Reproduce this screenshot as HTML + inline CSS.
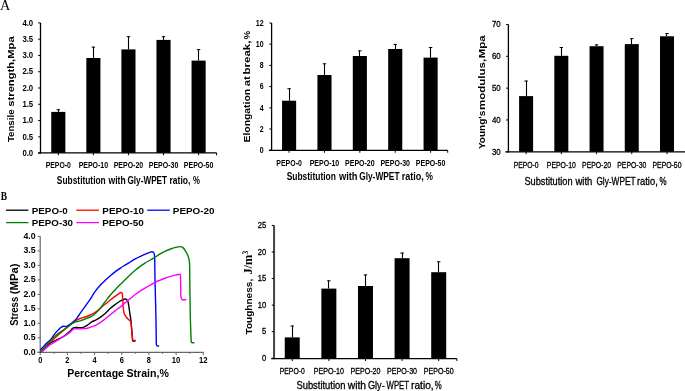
<!DOCTYPE html>
<html><head><meta charset="utf-8"><style>
html,body{margin:0;padding:0;background:#fff;width:685px;height:391px;overflow:hidden;}

</style></head><body>
<svg width="685" height="391" viewBox="0 0 685 391" style="position:absolute;left:0;top:0;filter:blur(0.3px)">
<rect width="685" height="391" fill="#fff"/>
<text x="0.10" y="9.90" font-family='"Liberation Serif", serif' font-size="14.0" font-weight="normal" fill="#000" textLength="10.30" lengthAdjust="spacingAndGlyphs" >A</text>
<rect x="51.25" y="111.90" width="14.10" height="41.00" fill="#000"/>
<line x1="58.50" y1="109.40" x2="58.50" y2="111.90" stroke="#000" stroke-width="1.1"/>
<line x1="56.60" y1="109.70" x2="60.00" y2="109.70" stroke="#000" stroke-width="1.0"/>
<rect x="86.33" y="58.00" width="14.09" height="94.90" fill="#000"/>
<line x1="93.50" y1="46.80" x2="93.50" y2="58.00" stroke="#000" stroke-width="1.1"/>
<line x1="91.67" y1="47.10" x2="95.08" y2="47.10" stroke="#000" stroke-width="1.0"/>
<rect x="121.40" y="49.40" width="14.10" height="103.50" fill="#000"/>
<line x1="128.50" y1="36.40" x2="128.50" y2="49.40" stroke="#000" stroke-width="1.1"/>
<line x1="126.75" y1="36.70" x2="130.15" y2="36.70" stroke="#000" stroke-width="1.0"/>
<rect x="156.47" y="39.90" width="14.11" height="113.00" fill="#000"/>
<line x1="163.50" y1="36.40" x2="163.50" y2="39.90" stroke="#000" stroke-width="1.1"/>
<line x1="161.83" y1="36.70" x2="165.22" y2="36.70" stroke="#000" stroke-width="1.0"/>
<rect x="191.55" y="60.60" width="14.10" height="92.30" fill="#000"/>
<line x1="198.50" y1="49.30" x2="198.50" y2="60.60" stroke="#000" stroke-width="1.1"/>
<line x1="196.90" y1="49.60" x2="200.30" y2="49.60" stroke="#000" stroke-width="1.0"/>
<line x1="40.50" y1="22.90" x2="40.50" y2="153.55" stroke="#000" stroke-width="1.3"/>
<line x1="38.00" y1="152.90" x2="216.60" y2="152.90" stroke="#000" stroke-width="1.3"/>
<line x1="38.20" y1="153.10" x2="40.50" y2="153.10" stroke="#000" stroke-width="1.0"/>
<line x1="38.20" y1="136.82" x2="40.50" y2="136.82" stroke="#000" stroke-width="1.0"/>
<line x1="38.20" y1="120.55" x2="40.50" y2="120.55" stroke="#000" stroke-width="1.0"/>
<line x1="38.20" y1="104.28" x2="40.50" y2="104.28" stroke="#000" stroke-width="1.0"/>
<line x1="38.20" y1="88.00" x2="40.50" y2="88.00" stroke="#000" stroke-width="1.0"/>
<line x1="38.20" y1="71.72" x2="40.50" y2="71.72" stroke="#000" stroke-width="1.0"/>
<line x1="38.20" y1="55.45" x2="40.50" y2="55.45" stroke="#000" stroke-width="1.0"/>
<line x1="38.20" y1="39.18" x2="40.50" y2="39.18" stroke="#000" stroke-width="1.0"/>
<line x1="38.20" y1="22.90" x2="40.50" y2="22.90" stroke="#000" stroke-width="1.0"/>
<line x1="58.30" y1="152.90" x2="58.30" y2="155.30" stroke="#000" stroke-width="1.0"/>
<line x1="93.38" y1="152.90" x2="93.38" y2="155.30" stroke="#000" stroke-width="1.0"/>
<line x1="128.45" y1="152.90" x2="128.45" y2="155.30" stroke="#000" stroke-width="1.0"/>
<line x1="163.53" y1="152.90" x2="163.53" y2="155.30" stroke="#000" stroke-width="1.0"/>
<line x1="198.60" y1="152.90" x2="198.60" y2="155.30" stroke="#000" stroke-width="1.0"/>
<line x1="216.60" y1="152.90" x2="216.60" y2="155.30" stroke="#000" stroke-width="1.0"/>
<text x="22.40" y="155.80" font-family='"Liberation Sans", sans-serif' font-size="8.6" font-weight="bold" fill="#000" textLength="10.80" lengthAdjust="spacingAndGlyphs" >0.0</text>
<text x="22.40" y="139.52" font-family='"Liberation Sans", sans-serif' font-size="8.6" font-weight="bold" fill="#000" textLength="10.80" lengthAdjust="spacingAndGlyphs" >0.5</text>
<text x="22.40" y="123.25" font-family='"Liberation Sans", sans-serif' font-size="8.6" font-weight="bold" fill="#000" textLength="10.80" lengthAdjust="spacingAndGlyphs" >1.0</text>
<text x="22.40" y="106.98" font-family='"Liberation Sans", sans-serif' font-size="8.6" font-weight="bold" fill="#000" textLength="10.80" lengthAdjust="spacingAndGlyphs" >1.5</text>
<text x="22.40" y="90.70" font-family='"Liberation Sans", sans-serif' font-size="8.6" font-weight="bold" fill="#000" textLength="10.80" lengthAdjust="spacingAndGlyphs" >2.0</text>
<text x="22.40" y="74.42" font-family='"Liberation Sans", sans-serif' font-size="8.6" font-weight="bold" fill="#000" textLength="10.80" lengthAdjust="spacingAndGlyphs" >2.5</text>
<text x="22.40" y="58.15" font-family='"Liberation Sans", sans-serif' font-size="8.6" font-weight="bold" fill="#000" textLength="10.80" lengthAdjust="spacingAndGlyphs" >3.0</text>
<text x="22.40" y="41.88" font-family='"Liberation Sans", sans-serif' font-size="8.6" font-weight="bold" fill="#000" textLength="10.80" lengthAdjust="spacingAndGlyphs" >3.5</text>
<text x="22.40" y="25.60" font-family='"Liberation Sans", sans-serif' font-size="8.6" font-weight="bold" fill="#000" textLength="10.80" lengthAdjust="spacingAndGlyphs" >4.0</text>
<text x="45.70" y="167.80" font-family='"Liberation Sans", sans-serif' font-size="8.8" font-weight="bold" fill="#000" textLength="25.20" lengthAdjust="spacingAndGlyphs" >PEPO-0</text>
<text x="78.63" y="167.80" font-family='"Liberation Sans", sans-serif' font-size="8.8" font-weight="bold" fill="#000" textLength="29.50" lengthAdjust="spacingAndGlyphs" >PEPO-10</text>
<text x="113.70" y="167.80" font-family='"Liberation Sans", sans-serif' font-size="8.8" font-weight="bold" fill="#000" textLength="29.50" lengthAdjust="spacingAndGlyphs" >PEPO-20</text>
<text x="148.78" y="167.80" font-family='"Liberation Sans", sans-serif' font-size="8.8" font-weight="bold" fill="#000" textLength="29.50" lengthAdjust="spacingAndGlyphs" >PEPO-30</text>
<text x="183.85" y="167.80" font-family='"Liberation Sans", sans-serif' font-size="8.8" font-weight="bold" fill="#000" textLength="29.50" lengthAdjust="spacingAndGlyphs" >PEPO-50</text>
<text transform="translate(14.30,142.11) rotate(-90)" x="0" y="0" font-family='"Liberation Sans", sans-serif' font-size="9.2" font-weight="bold" fill="#000" textLength="32.63" lengthAdjust="spacingAndGlyphs">Tensile</text>
<text transform="translate(14.30,106.69) rotate(-90)" x="0" y="0" font-family='"Liberation Sans", sans-serif' font-size="9.2" font-weight="bold" fill="#000" textLength="70.32" lengthAdjust="spacingAndGlyphs">strength,Mpa</text>
<text x="56.86" y="183.70" font-family='"Liberation Sans", sans-serif' font-size="10.4" font-weight="bold" fill="#000" textLength="48.86" lengthAdjust="spacingAndGlyphs">Substitution</text>
<text x="108.53" y="183.70" font-family='"Liberation Sans", sans-serif' font-size="10.4" font-weight="bold" fill="#000" textLength="17.11" lengthAdjust="spacingAndGlyphs">with</text>
<text x="127.46" y="183.70" font-family='"Liberation Sans", sans-serif' font-size="10.4" font-weight="bold" fill="#000" textLength="39.62" lengthAdjust="spacingAndGlyphs">Gly-WPET</text>
<text x="169.44" y="183.70" font-family='"Liberation Sans", sans-serif' font-size="10.4" font-weight="bold" fill="#000" textLength="20.94" lengthAdjust="spacingAndGlyphs">ratio,</text>
<text x="193.11" y="183.70" font-family='"Liberation Sans", sans-serif' font-size="10.4" font-weight="bold" fill="#000" textLength="6.90" lengthAdjust="spacingAndGlyphs">%</text>
<rect x="282.05" y="100.70" width="14.10" height="49.65" fill="#000"/>
<line x1="289.50" y1="88.40" x2="289.50" y2="100.70" stroke="#000" stroke-width="1.1"/>
<line x1="287.40" y1="88.70" x2="290.80" y2="88.70" stroke="#000" stroke-width="1.0"/>
<rect x="317.43" y="75.00" width="14.10" height="75.35" fill="#000"/>
<line x1="324.50" y1="63.50" x2="324.50" y2="75.00" stroke="#000" stroke-width="1.1"/>
<line x1="322.78" y1="63.80" x2="326.18" y2="63.80" stroke="#000" stroke-width="1.0"/>
<rect x="352.80" y="56.00" width="14.10" height="94.35" fill="#000"/>
<line x1="359.50" y1="50.60" x2="359.50" y2="56.00" stroke="#000" stroke-width="1.1"/>
<line x1="358.15" y1="50.90" x2="361.55" y2="50.90" stroke="#000" stroke-width="1.0"/>
<rect x="388.18" y="49.00" width="14.10" height="101.35" fill="#000"/>
<line x1="395.50" y1="44.10" x2="395.50" y2="49.00" stroke="#000" stroke-width="1.1"/>
<line x1="393.53" y1="44.40" x2="396.93" y2="44.40" stroke="#000" stroke-width="1.0"/>
<rect x="423.55" y="57.60" width="14.10" height="92.75" fill="#000"/>
<line x1="430.50" y1="47.20" x2="430.50" y2="57.60" stroke="#000" stroke-width="1.1"/>
<line x1="428.90" y1="47.50" x2="432.30" y2="47.50" stroke="#000" stroke-width="1.0"/>
<line x1="271.60" y1="23.00" x2="271.60" y2="151.00" stroke="#000" stroke-width="1.3"/>
<line x1="268.90" y1="150.35" x2="447.70" y2="150.35" stroke="#000" stroke-width="1.3"/>
<line x1="269.30" y1="150.20" x2="271.60" y2="150.20" stroke="#000" stroke-width="1.0"/>
<line x1="269.30" y1="129.00" x2="271.60" y2="129.00" stroke="#000" stroke-width="1.0"/>
<line x1="269.30" y1="107.80" x2="271.60" y2="107.80" stroke="#000" stroke-width="1.0"/>
<line x1="269.30" y1="86.60" x2="271.60" y2="86.60" stroke="#000" stroke-width="1.0"/>
<line x1="269.30" y1="65.40" x2="271.60" y2="65.40" stroke="#000" stroke-width="1.0"/>
<line x1="269.30" y1="44.20" x2="271.60" y2="44.20" stroke="#000" stroke-width="1.0"/>
<line x1="269.30" y1="23.00" x2="271.60" y2="23.00" stroke="#000" stroke-width="1.0"/>
<line x1="289.10" y1="150.35" x2="289.10" y2="152.75" stroke="#000" stroke-width="1.0"/>
<line x1="324.48" y1="150.35" x2="324.48" y2="152.75" stroke="#000" stroke-width="1.0"/>
<line x1="359.85" y1="150.35" x2="359.85" y2="152.75" stroke="#000" stroke-width="1.0"/>
<line x1="395.23" y1="150.35" x2="395.23" y2="152.75" stroke="#000" stroke-width="1.0"/>
<line x1="430.60" y1="150.35" x2="430.60" y2="152.75" stroke="#000" stroke-width="1.0"/>
<line x1="447.70" y1="150.35" x2="447.70" y2="152.75" stroke="#000" stroke-width="1.0"/>
<text x="259.70" y="153.00" font-family='"Liberation Sans", sans-serif' font-size="8.4" font-weight="bold" fill="#000" textLength="3.90" lengthAdjust="spacingAndGlyphs" >0</text>
<text x="259.70" y="131.80" font-family='"Liberation Sans", sans-serif' font-size="8.4" font-weight="bold" fill="#000" textLength="3.90" lengthAdjust="spacingAndGlyphs" >2</text>
<text x="259.70" y="110.60" font-family='"Liberation Sans", sans-serif' font-size="8.4" font-weight="bold" fill="#000" textLength="3.90" lengthAdjust="spacingAndGlyphs" >4</text>
<text x="259.70" y="89.40" font-family='"Liberation Sans", sans-serif' font-size="8.4" font-weight="bold" fill="#000" textLength="3.90" lengthAdjust="spacingAndGlyphs" >6</text>
<text x="259.70" y="68.20" font-family='"Liberation Sans", sans-serif' font-size="8.4" font-weight="bold" fill="#000" textLength="3.90" lengthAdjust="spacingAndGlyphs" >8</text>
<text x="255.80" y="47.00" font-family='"Liberation Sans", sans-serif' font-size="8.4" font-weight="bold" fill="#000" textLength="7.80" lengthAdjust="spacingAndGlyphs" >10</text>
<text x="255.80" y="25.80" font-family='"Liberation Sans", sans-serif' font-size="8.4" font-weight="bold" fill="#000" textLength="7.80" lengthAdjust="spacingAndGlyphs" >12</text>
<text x="276.35" y="165.80" font-family='"Liberation Sans", sans-serif' font-size="9.0" font-weight="bold" fill="#000" textLength="25.50" lengthAdjust="spacingAndGlyphs" >PEPO-0</text>
<text x="309.68" y="165.80" font-family='"Liberation Sans", sans-serif' font-size="9.0" font-weight="bold" fill="#000" textLength="29.60" lengthAdjust="spacingAndGlyphs" >PEPO-10</text>
<text x="345.05" y="165.80" font-family='"Liberation Sans", sans-serif' font-size="9.0" font-weight="bold" fill="#000" textLength="29.60" lengthAdjust="spacingAndGlyphs" >PEPO-20</text>
<text x="380.43" y="165.80" font-family='"Liberation Sans", sans-serif' font-size="9.0" font-weight="bold" fill="#000" textLength="29.60" lengthAdjust="spacingAndGlyphs" >PEPO-30</text>
<text x="415.80" y="165.80" font-family='"Liberation Sans", sans-serif' font-size="9.0" font-weight="bold" fill="#000" textLength="29.60" lengthAdjust="spacingAndGlyphs" >PEPO-50</text>
<text transform="translate(250.40,142.49) rotate(-90)" x="0" y="0" font-family='"Liberation Sans", sans-serif' font-size="9.2" font-weight="bold" fill="#000" textLength="53.54" lengthAdjust="spacingAndGlyphs">Elongation</text>
<text transform="translate(250.40,86.13) rotate(-90)" x="0" y="0" font-family='"Liberation Sans", sans-serif' font-size="9.2" font-weight="bold" fill="#000" textLength="9.97" lengthAdjust="spacingAndGlyphs">at</text>
<text transform="translate(250.40,74.46) rotate(-90)" x="0" y="0" font-family='"Liberation Sans", sans-serif' font-size="9.2" font-weight="bold" fill="#000" textLength="33.93" lengthAdjust="spacingAndGlyphs">break,</text>
<text transform="translate(250.40,39.44) rotate(-90)" x="0" y="0" font-family='"Liberation Sans", sans-serif' font-size="9.2" font-weight="bold" fill="#000" textLength="8.60" lengthAdjust="spacingAndGlyphs">%</text>
<text x="286.66" y="180.20" font-family='"Liberation Sans", sans-serif' font-size="10.4" font-weight="bold" fill="#000" textLength="49.27" lengthAdjust="spacingAndGlyphs">Substitution</text>
<text x="338.93" y="180.20" font-family='"Liberation Sans", sans-serif' font-size="10.4" font-weight="bold" fill="#000" textLength="18.65" lengthAdjust="spacingAndGlyphs">with</text>
<text x="359.16" y="180.20" font-family='"Liberation Sans", sans-serif' font-size="10.4" font-weight="bold" fill="#000" textLength="40.33" lengthAdjust="spacingAndGlyphs">Gly-WPET</text>
<text x="401.70" y="180.20" font-family='"Liberation Sans", sans-serif' font-size="10.4" font-weight="bold" fill="#000" textLength="22.21" lengthAdjust="spacingAndGlyphs">ratio,</text>
<text x="425.49" y="180.20" font-family='"Liberation Sans", sans-serif' font-size="10.4" font-weight="bold" fill="#000" textLength="7.43" lengthAdjust="spacingAndGlyphs">%</text>
<rect x="519.10" y="96.10" width="14.00" height="55.70" fill="#000"/>
<line x1="526.50" y1="80.70" x2="526.50" y2="96.10" stroke="#000" stroke-width="1.1"/>
<line x1="524.40" y1="81.00" x2="527.80" y2="81.00" stroke="#000" stroke-width="1.0"/>
<rect x="554.33" y="55.80" width="14.00" height="96.00" fill="#000"/>
<line x1="561.50" y1="47.20" x2="561.50" y2="55.80" stroke="#000" stroke-width="1.1"/>
<line x1="559.63" y1="47.50" x2="563.03" y2="47.50" stroke="#000" stroke-width="1.0"/>
<rect x="589.55" y="46.20" width="14.00" height="105.60" fill="#000"/>
<line x1="596.50" y1="44.50" x2="596.50" y2="46.20" stroke="#000" stroke-width="1.1"/>
<line x1="594.85" y1="44.80" x2="598.25" y2="44.80" stroke="#000" stroke-width="1.0"/>
<rect x="624.77" y="44.10" width="14.00" height="107.70" fill="#000"/>
<line x1="631.50" y1="38.30" x2="631.50" y2="44.10" stroke="#000" stroke-width="1.1"/>
<line x1="630.07" y1="38.60" x2="633.47" y2="38.60" stroke="#000" stroke-width="1.0"/>
<rect x="660.00" y="36.30" width="14.00" height="115.50" fill="#000"/>
<line x1="666.50" y1="33.20" x2="666.50" y2="36.30" stroke="#000" stroke-width="1.1"/>
<line x1="665.30" y1="33.50" x2="668.70" y2="33.50" stroke="#000" stroke-width="1.0"/>
<line x1="508.40" y1="24.50" x2="508.40" y2="152.45" stroke="#000" stroke-width="1.3"/>
<line x1="505.40" y1="151.80" x2="685.50" y2="151.80" stroke="#000" stroke-width="1.3"/>
<line x1="506.10" y1="151.80" x2="508.40" y2="151.80" stroke="#000" stroke-width="1.0"/>
<line x1="506.10" y1="119.97" x2="508.40" y2="119.97" stroke="#000" stroke-width="1.0"/>
<line x1="506.10" y1="88.14" x2="508.40" y2="88.14" stroke="#000" stroke-width="1.0"/>
<line x1="506.10" y1="56.31" x2="508.40" y2="56.31" stroke="#000" stroke-width="1.0"/>
<line x1="506.10" y1="24.48" x2="508.40" y2="24.48" stroke="#000" stroke-width="1.0"/>
<line x1="526.10" y1="151.80" x2="526.10" y2="154.20" stroke="#000" stroke-width="1.0"/>
<line x1="561.33" y1="151.80" x2="561.33" y2="154.20" stroke="#000" stroke-width="1.0"/>
<line x1="596.55" y1="151.80" x2="596.55" y2="154.20" stroke="#000" stroke-width="1.0"/>
<line x1="631.78" y1="151.80" x2="631.78" y2="154.20" stroke="#000" stroke-width="1.0"/>
<line x1="667.00" y1="151.80" x2="667.00" y2="154.20" stroke="#000" stroke-width="1.0"/>
<text x="492.00" y="154.60" font-family='"Liberation Sans", sans-serif' font-size="8.6" font-weight="normal" fill="#000" textLength="8.70" lengthAdjust="spacingAndGlyphs"  stroke="#000" stroke-width="0.3">30</text>
<text x="492.00" y="122.77" font-family='"Liberation Sans", sans-serif' font-size="8.6" font-weight="normal" fill="#000" textLength="8.70" lengthAdjust="spacingAndGlyphs"  stroke="#000" stroke-width="0.3">40</text>
<text x="492.00" y="90.94" font-family='"Liberation Sans", sans-serif' font-size="8.6" font-weight="normal" fill="#000" textLength="8.70" lengthAdjust="spacingAndGlyphs"  stroke="#000" stroke-width="0.3">50</text>
<text x="492.00" y="59.11" font-family='"Liberation Sans", sans-serif' font-size="8.6" font-weight="normal" fill="#000" textLength="8.70" lengthAdjust="spacingAndGlyphs"  stroke="#000" stroke-width="0.3">60</text>
<text x="492.00" y="27.28" font-family='"Liberation Sans", sans-serif' font-size="8.6" font-weight="normal" fill="#000" textLength="8.70" lengthAdjust="spacingAndGlyphs"  stroke="#000" stroke-width="0.3">70</text>
<text x="513.70" y="167.60" font-family='"Liberation Sans", sans-serif' font-size="8.6" font-weight="normal" fill="#000" textLength="24.80" lengthAdjust="spacingAndGlyphs"  stroke="#000" stroke-width="0.3">PEPO-0</text>
<text x="546.83" y="167.60" font-family='"Liberation Sans", sans-serif' font-size="8.6" font-weight="normal" fill="#000" textLength="29.00" lengthAdjust="spacingAndGlyphs"  stroke="#000" stroke-width="0.3">PEPO-10</text>
<text x="582.05" y="167.60" font-family='"Liberation Sans", sans-serif' font-size="8.6" font-weight="normal" fill="#000" textLength="29.00" lengthAdjust="spacingAndGlyphs"  stroke="#000" stroke-width="0.3">PEPO-20</text>
<text x="617.28" y="167.60" font-family='"Liberation Sans", sans-serif' font-size="8.6" font-weight="normal" fill="#000" textLength="29.00" lengthAdjust="spacingAndGlyphs"  stroke="#000" stroke-width="0.3">PEPO-30</text>
<text x="652.50" y="167.60" font-family='"Liberation Sans", sans-serif' font-size="8.6" font-weight="normal" fill="#000" textLength="29.00" lengthAdjust="spacingAndGlyphs"  stroke="#000" stroke-width="0.3">PEPO-50</text>
<text transform="translate(484.80,149.07) rotate(-90)" x="0" y="0" font-family='"Liberation Sans", sans-serif' font-size="9.2" font-weight="bold" fill="#000" textLength="38.37" lengthAdjust="spacingAndGlyphs">Young's</text>
<text transform="translate(484.80,109.96) rotate(-90)" x="0" y="0" font-family='"Liberation Sans", sans-serif' font-size="9.2" font-weight="bold" fill="#000" textLength="51.13" lengthAdjust="spacingAndGlyphs">modulus,</text>
<text transform="translate(484.80,58.37) rotate(-90)" x="0" y="0" font-family='"Liberation Sans", sans-serif' font-size="9.2" font-weight="bold" fill="#000" textLength="22.89" lengthAdjust="spacingAndGlyphs">Mpa</text>
<text x="524.48" y="184.50" font-family='"Liberation Sans", sans-serif' font-size="10.4" font-weight="normal" fill="#000" textLength="48.12" lengthAdjust="spacingAndGlyphs" stroke="#000" stroke-width="0.3">Substitution</text>
<text x="575.51" y="184.50" font-family='"Liberation Sans", sans-serif' font-size="10.4" font-weight="normal" fill="#000" textLength="16.90" lengthAdjust="spacingAndGlyphs" stroke="#000" stroke-width="0.3">with</text>
<text x="596.38" y="184.50" font-family='"Liberation Sans", sans-serif' font-size="10.4" font-weight="normal" fill="#000" textLength="39.11" lengthAdjust="spacingAndGlyphs" stroke="#000" stroke-width="0.3">Gly-WPET</text>
<text x="636.98" y="184.50" font-family='"Liberation Sans", sans-serif' font-size="10.4" font-weight="normal" fill="#000" textLength="20.76" lengthAdjust="spacingAndGlyphs" stroke="#000" stroke-width="0.3">ratio,</text>
<text x="659.52" y="184.50" font-family='"Liberation Sans", sans-serif' font-size="10.4" font-weight="normal" fill="#000" textLength="7.07" lengthAdjust="spacingAndGlyphs" stroke="#000" stroke-width="0.3">%</text>
<text x="0.80" y="200.00" font-family='"Liberation Serif", serif' font-size="11.5" font-weight="bold" fill="#000" textLength="6.30" lengthAdjust="spacingAndGlyphs" >B</text>
<line x1="40.20" y1="236.20" x2="40.20" y2="352.30" stroke="#666" stroke-width="1.2"/>
<line x1="37.60" y1="352.30" x2="203.78" y2="352.30" stroke="#666" stroke-width="1.2"/>
<line x1="37.60" y1="352.30" x2="40.20" y2="352.30" stroke="#666" stroke-width="1.0"/>
<line x1="37.60" y1="337.81" x2="40.20" y2="337.81" stroke="#666" stroke-width="1.0"/>
<line x1="37.60" y1="323.33" x2="40.20" y2="323.33" stroke="#666" stroke-width="1.0"/>
<line x1="37.60" y1="308.85" x2="40.20" y2="308.85" stroke="#666" stroke-width="1.0"/>
<line x1="37.60" y1="294.36" x2="40.20" y2="294.36" stroke="#666" stroke-width="1.0"/>
<line x1="37.60" y1="279.88" x2="40.20" y2="279.88" stroke="#666" stroke-width="1.0"/>
<line x1="37.60" y1="265.39" x2="40.20" y2="265.39" stroke="#666" stroke-width="1.0"/>
<line x1="37.60" y1="250.91" x2="40.20" y2="250.91" stroke="#666" stroke-width="1.0"/>
<line x1="37.60" y1="236.42" x2="40.20" y2="236.42" stroke="#666" stroke-width="1.0"/>
<line x1="40.20" y1="352.30" x2="40.20" y2="355.10" stroke="#666" stroke-width="1.0"/>
<line x1="53.79" y1="352.30" x2="53.79" y2="353.90" stroke="#666" stroke-width="1.0"/>
<line x1="67.38" y1="352.30" x2="67.38" y2="355.10" stroke="#666" stroke-width="1.0"/>
<line x1="80.97" y1="352.30" x2="80.97" y2="353.90" stroke="#666" stroke-width="1.0"/>
<line x1="94.56" y1="352.30" x2="94.56" y2="355.10" stroke="#666" stroke-width="1.0"/>
<line x1="108.15" y1="352.30" x2="108.15" y2="353.90" stroke="#666" stroke-width="1.0"/>
<line x1="121.74" y1="352.30" x2="121.74" y2="355.10" stroke="#666" stroke-width="1.0"/>
<line x1="135.33" y1="352.30" x2="135.33" y2="353.90" stroke="#666" stroke-width="1.0"/>
<line x1="148.92" y1="352.30" x2="148.92" y2="355.10" stroke="#666" stroke-width="1.0"/>
<line x1="162.51" y1="352.30" x2="162.51" y2="353.90" stroke="#666" stroke-width="1.0"/>
<line x1="176.10" y1="352.30" x2="176.10" y2="355.10" stroke="#666" stroke-width="1.0"/>
<line x1="189.69" y1="352.30" x2="189.69" y2="353.90" stroke="#666" stroke-width="1.0"/>
<line x1="203.28" y1="352.30" x2="203.28" y2="355.10" stroke="#666" stroke-width="1.0"/>
<text x="23.40" y="354.70" font-family='"Liberation Sans", sans-serif' font-size="8.2" font-weight="bold" fill="#000" textLength="12.20" lengthAdjust="spacingAndGlyphs" >0.0</text>
<text x="23.40" y="340.21" font-family='"Liberation Sans", sans-serif' font-size="8.2" font-weight="bold" fill="#000" textLength="12.20" lengthAdjust="spacingAndGlyphs" >0.5</text>
<text x="23.40" y="325.73" font-family='"Liberation Sans", sans-serif' font-size="8.2" font-weight="bold" fill="#000" textLength="12.20" lengthAdjust="spacingAndGlyphs" >1.0</text>
<text x="23.40" y="311.25" font-family='"Liberation Sans", sans-serif' font-size="8.2" font-weight="bold" fill="#000" textLength="12.20" lengthAdjust="spacingAndGlyphs" >1.5</text>
<text x="23.40" y="296.76" font-family='"Liberation Sans", sans-serif' font-size="8.2" font-weight="bold" fill="#000" textLength="12.20" lengthAdjust="spacingAndGlyphs" >2.0</text>
<text x="23.40" y="282.27" font-family='"Liberation Sans", sans-serif' font-size="8.2" font-weight="bold" fill="#000" textLength="12.20" lengthAdjust="spacingAndGlyphs" >2.5</text>
<text x="23.40" y="267.79" font-family='"Liberation Sans", sans-serif' font-size="8.2" font-weight="bold" fill="#000" textLength="12.20" lengthAdjust="spacingAndGlyphs" >3.0</text>
<text x="23.40" y="253.31" font-family='"Liberation Sans", sans-serif' font-size="8.2" font-weight="bold" fill="#000" textLength="12.20" lengthAdjust="spacingAndGlyphs" >3.5</text>
<text x="23.40" y="238.82" font-family='"Liberation Sans", sans-serif' font-size="8.2" font-weight="bold" fill="#000" textLength="12.20" lengthAdjust="spacingAndGlyphs" >4.0</text>
<text x="38.15" y="363.40" font-family='"Liberation Sans", sans-serif' font-size="8.2" font-weight="bold" fill="#000" textLength="4.10" lengthAdjust="spacingAndGlyphs" >0</text>
<text x="65.33" y="363.40" font-family='"Liberation Sans", sans-serif' font-size="8.2" font-weight="bold" fill="#000" textLength="4.10" lengthAdjust="spacingAndGlyphs" >2</text>
<text x="92.51" y="363.40" font-family='"Liberation Sans", sans-serif' font-size="8.2" font-weight="bold" fill="#000" textLength="4.10" lengthAdjust="spacingAndGlyphs" >4</text>
<text x="119.69" y="363.40" font-family='"Liberation Sans", sans-serif' font-size="8.2" font-weight="bold" fill="#000" textLength="4.10" lengthAdjust="spacingAndGlyphs" >6</text>
<text x="146.87" y="363.40" font-family='"Liberation Sans", sans-serif' font-size="8.2" font-weight="bold" fill="#000" textLength="4.10" lengthAdjust="spacingAndGlyphs" >8</text>
<text x="171.80" y="363.40" font-family='"Liberation Sans", sans-serif' font-size="8.2" font-weight="bold" fill="#000" textLength="8.60" lengthAdjust="spacingAndGlyphs" >10</text>
<text x="198.98" y="363.40" font-family='"Liberation Sans", sans-serif' font-size="8.2" font-weight="bold" fill="#000" textLength="8.60" lengthAdjust="spacingAndGlyphs" >12</text>
<text transform="translate(18.30,325.87) rotate(-90)" x="0" y="0" font-family='"Liberation Sans", sans-serif' font-size="10" font-weight="bold" fill="#000" textLength="29.06" lengthAdjust="spacingAndGlyphs">Stress</text>
<text transform="translate(18.30,294.26) rotate(-90)" x="0" y="0" font-family='"Liberation Sans", sans-serif' font-size="10" font-weight="bold" fill="#000" textLength="30.72" lengthAdjust="spacingAndGlyphs">(MPa)</text>
<text x="67.20" y="377.40" font-family='"Liberation Sans", sans-serif' font-size="10.5" font-weight="bold" fill="#000" textLength="56.76" lengthAdjust="spacingAndGlyphs">Percentage</text>
<text x="126.49" y="377.40" font-family='"Liberation Sans", sans-serif' font-size="10.5" font-weight="bold" fill="#000" textLength="42.38" lengthAdjust="spacingAndGlyphs">Strain,%</text>
<line x1="6.00" y1="210.20" x2="28.40" y2="210.20" stroke="#000" stroke-width="1.3"/>
<text x="31.80" y="213.70" font-family='"Liberation Sans", sans-serif' font-size="9.8" font-weight="bold" fill="#000" textLength="35.90" lengthAdjust="spacingAndGlyphs" >PEPO-0</text>
<line x1="76.40" y1="210.20" x2="99.00" y2="210.20" stroke="#ff0000" stroke-width="1.3"/>
<text x="102.30" y="213.70" font-family='"Liberation Sans", sans-serif' font-size="9.8" font-weight="bold" fill="#000" textLength="41.80" lengthAdjust="spacingAndGlyphs" >PEPO-10</text>
<line x1="147.20" y1="210.20" x2="169.80" y2="210.20" stroke="#0000ff" stroke-width="1.3"/>
<text x="172.80" y="213.70" font-family='"Liberation Sans", sans-serif' font-size="9.8" font-weight="bold" fill="#000" textLength="41.80" lengthAdjust="spacingAndGlyphs" >PEPO-20</text>
<line x1="6.00" y1="222.60" x2="28.40" y2="222.60" stroke="#008000" stroke-width="1.3"/>
<text x="31.80" y="226.10" font-family='"Liberation Sans", sans-serif' font-size="9.8" font-weight="bold" fill="#000" textLength="41.20" lengthAdjust="spacingAndGlyphs" >PEPO-30</text>
<line x1="76.40" y1="222.60" x2="99.00" y2="222.60" stroke="#ff00ff" stroke-width="1.3"/>
<text x="102.30" y="226.10" font-family='"Liberation Sans", sans-serif' font-size="9.8" font-weight="bold" fill="#000" textLength="41.50" lengthAdjust="spacingAndGlyphs" >PEPO-50</text>
<path d="M40.80,352.00 C41.58,351.27 43.93,349.08 45.50,347.60 C47.07,346.12 48.57,344.27 50.20,343.10 C51.83,341.93 53.58,341.45 55.30,340.60 C57.02,339.75 58.78,338.93 60.50,338.00 C62.22,337.07 64.07,336.10 65.60,335.00 C67.13,333.90 68.52,332.52 69.70,331.40 C70.88,330.28 71.85,328.93 72.70,328.30 C73.55,327.67 73.58,327.72 74.80,327.60 C76.02,327.48 78.60,327.63 80.00,327.60 C81.40,327.57 81.98,327.80 83.20,327.40 C84.42,327.00 85.93,326.08 87.30,325.20 C88.67,324.32 90.03,322.95 91.40,322.10 C92.77,321.25 93.97,320.93 95.50,320.10 C97.03,319.27 98.90,318.30 100.60,317.10 C102.30,315.90 104.07,314.37 105.70,312.90 C107.33,311.43 108.83,309.68 110.40,308.30 C111.97,306.92 113.47,305.82 115.10,304.60 C116.73,303.38 118.67,301.90 120.20,301.00 C121.73,300.10 123.27,299.47 124.30,299.20 C125.33,298.93 125.80,299.02 126.40,299.40 C127.00,299.78 127.48,300.30 127.90,301.50 C128.32,302.70 128.57,304.55 128.90,306.60 C129.23,308.65 129.57,311.53 129.90,313.80 C130.23,316.07 130.62,317.77 130.90,320.20 C131.18,322.63 131.38,325.83 131.60,328.40 C131.82,330.97 132.03,333.55 132.20,335.60 C132.37,337.65 132.53,339.85 132.60,340.70 L134.50,341.20" fill="none" stroke="#000000" stroke-width="1.4" stroke-linejoin="round" stroke-linecap="round"/>
<path d="M40.80,351.60 C41.58,350.78 43.93,348.28 45.50,346.70 C47.07,345.12 48.57,343.63 50.20,342.10 C51.83,340.57 53.58,339.03 55.30,337.50 C57.02,335.97 58.78,334.35 60.50,332.90 C62.22,331.45 63.90,330.25 65.60,328.80 C67.30,327.35 69.13,325.48 70.70,324.20 C72.27,322.92 73.43,322.05 75.00,321.10 C76.57,320.15 78.40,319.18 80.10,318.50 C81.80,317.82 83.50,317.58 85.20,317.00 C86.90,316.42 88.77,315.68 90.30,315.00 C91.83,314.32 93.03,313.77 94.40,312.90 C95.77,312.03 97.13,310.90 98.50,309.80 C99.87,308.70 101.07,307.57 102.60,306.30 C104.13,305.03 106.47,303.22 107.70,302.20 C108.93,301.18 108.77,301.17 110.00,300.20 C111.23,299.23 113.57,297.55 115.10,296.40 C116.63,295.25 118.17,293.95 119.20,293.30 C120.23,292.65 120.78,292.50 121.30,292.50 C121.82,292.50 122.13,293.17 122.30,293.30 C122.38,294.50 122.63,297.95 122.80,300.50 C122.97,303.05 123.05,306.38 123.30,308.60 C123.55,310.82 123.78,312.35 124.30,313.80 C124.82,315.25 125.60,316.27 126.40,317.30 C127.20,318.33 128.35,319.25 129.10,320.00 C129.85,320.75 130.60,321.50 130.90,321.80 C130.98,322.57 131.23,324.62 131.40,326.40 C131.57,328.18 131.70,330.28 131.90,332.50 C132.10,334.72 132.48,338.50 132.60,339.70 C132.73,339.83 132.92,340.37 133.40,340.50 C133.88,340.63 135.15,340.50 135.50,340.50" fill="none" stroke="#ff0000" stroke-width="1.4" stroke-linejoin="round" stroke-linecap="round"/>
<path d="M40.60,349.80 C41.35,348.95 43.50,346.32 45.10,344.70 C46.70,343.08 48.83,341.55 50.20,340.10 C51.57,338.65 52.27,337.37 53.30,336.00 C54.33,334.63 55.20,333.27 56.40,331.90 C57.60,330.53 59.32,328.73 60.50,327.80 C61.68,326.87 62.57,326.50 63.50,326.30 C64.43,326.10 65.25,326.78 66.10,326.60 C66.95,326.42 67.50,325.93 68.60,325.20 C69.70,324.47 71.42,323.25 72.70,322.20 C73.98,321.15 75.07,320.37 76.30,318.90 C77.53,317.43 78.62,315.50 80.10,313.40 C81.58,311.30 83.50,308.68 85.20,306.30 C86.90,303.92 89.05,300.95 90.30,299.10 C91.55,297.25 91.88,296.50 92.70,295.20 C93.52,293.90 93.93,292.97 95.20,291.30 C96.47,289.63 98.58,287.07 100.30,285.20 C102.02,283.33 103.78,281.72 105.50,280.10 C107.22,278.48 108.90,276.95 110.60,275.50 C112.30,274.05 114.00,272.68 115.70,271.40 C117.40,270.12 119.23,268.85 120.80,267.80 C122.37,266.75 123.53,266.07 125.10,265.10 C126.67,264.13 128.50,263.03 130.20,262.00 C131.90,260.97 133.58,259.83 135.30,258.90 C137.02,257.97 138.78,257.20 140.50,256.40 C142.22,255.60 144.07,254.78 145.60,254.10 C147.13,253.42 148.60,252.68 149.70,252.30 C150.80,251.92 151.52,251.72 152.20,251.80 C152.88,251.88 153.40,252.03 153.80,252.80 C154.20,253.57 154.43,254.27 154.60,256.40 C154.77,258.53 154.77,264.07 154.80,265.60 C154.83,268.00 154.82,271.63 155.00,280.00 C155.18,288.37 155.68,305.05 155.90,315.80 C156.12,326.55 156.23,339.72 156.30,344.50 C156.45,344.75 156.82,345.75 157.20,346.00 C157.58,346.25 158.37,346.00 158.60,346.00" fill="none" stroke="#0000ff" stroke-width="1.4" stroke-linejoin="round" stroke-linecap="round"/>
<path d="M40.60,351.20 C41.52,350.28 44.50,347.38 46.10,345.70 C47.70,344.02 48.67,342.72 50.20,341.10 C51.73,339.48 53.58,337.53 55.30,336.00 C57.02,334.47 58.78,333.18 60.50,331.90 C62.22,330.62 63.90,329.50 65.60,328.30 C67.30,327.10 69.17,325.72 70.70,324.70 C72.23,323.68 73.23,322.85 74.80,322.20 C76.37,321.55 78.37,321.33 80.10,320.80 C81.83,320.27 83.50,319.63 85.20,319.00 C86.90,318.37 88.93,317.62 90.30,317.00 C91.67,316.38 92.20,316.23 93.40,315.30 C94.60,314.37 95.97,313.08 97.50,311.40 C99.03,309.72 101.07,307.17 102.60,305.20 C104.13,303.23 105.43,301.27 106.70,299.60 C107.97,297.93 108.75,296.88 110.20,295.20 C111.65,293.52 113.68,291.32 115.40,289.50 C117.12,287.68 118.93,285.88 120.50,284.30 C122.07,282.72 123.18,281.58 124.80,280.00 C126.42,278.42 128.45,276.43 130.20,274.80 C131.95,273.17 133.58,271.65 135.30,270.20 C137.02,268.75 138.83,267.33 140.50,266.10 C142.17,264.87 143.65,263.82 145.30,262.80 C146.95,261.78 148.75,260.97 150.40,260.00 C152.05,259.03 153.57,258.03 155.20,257.00 C156.83,255.97 158.52,254.77 160.20,253.80 C161.88,252.83 163.60,252.00 165.30,251.20 C167.00,250.40 168.68,249.63 170.40,249.00 C172.12,248.37 173.97,247.80 175.60,247.40 C177.23,247.00 179.02,246.60 180.20,246.60 C181.38,246.60 181.85,246.72 182.70,247.40 C183.55,248.08 184.45,249.38 185.30,250.70 C186.15,252.02 187.12,253.50 187.80,255.30 C188.48,257.10 189.08,258.93 189.40,261.50 C189.72,264.07 189.65,269.17 189.70,270.70 C189.80,278.22 190.05,303.95 190.30,315.80 C190.55,327.65 191.05,337.47 191.20,341.80 C191.35,341.95 191.65,342.55 192.10,342.70 C192.55,342.85 193.60,342.70 193.90,342.70" fill="none" stroke="#008000" stroke-width="1.4" stroke-linejoin="round" stroke-linecap="round"/>
<path d="M41.60,352.30 C42.33,351.63 44.57,349.57 46.00,348.30 C47.43,347.03 48.65,345.82 50.20,344.70 C51.75,343.58 53.58,342.63 55.30,341.60 C57.02,340.57 58.78,339.52 60.50,338.50 C62.22,337.48 64.07,336.52 65.60,335.50 C67.13,334.48 68.33,333.52 69.70,332.40 C71.07,331.28 73.12,329.40 73.80,328.80 C74.83,328.80 78.60,328.83 80.00,328.80 C81.40,328.77 80.98,328.70 82.20,328.60 C83.42,328.50 85.43,328.60 87.30,328.20 C89.17,327.80 91.53,326.97 93.40,326.20 C95.27,325.43 96.80,324.62 98.50,323.60 C100.20,322.58 101.88,321.37 103.60,320.10 C105.32,318.83 106.90,317.53 108.80,316.00 C110.70,314.47 113.10,312.38 115.00,310.90 C116.90,309.42 118.48,308.48 120.20,307.10 C121.92,305.72 123.58,304.05 125.30,302.60 C127.02,301.15 128.78,299.78 130.50,298.40 C132.22,297.02 133.90,295.58 135.60,294.30 C137.30,293.02 139.07,291.77 140.70,290.70 C142.33,289.63 143.83,288.82 145.40,287.90 C146.97,286.98 148.47,286.17 150.10,285.20 C151.73,284.23 153.50,282.95 155.20,282.10 C156.90,281.25 158.58,280.78 160.30,280.10 C162.02,279.42 163.78,278.63 165.50,278.00 C167.22,277.37 168.90,276.80 170.60,276.30 C172.30,275.80 174.25,275.35 175.70,275.00 C177.15,274.65 178.53,274.27 179.30,274.20 C180.07,274.13 180.13,274.53 180.30,274.60 C180.35,275.60 180.52,277.02 180.60,280.60 C180.68,284.18 180.77,293.52 180.80,296.10 C180.98,296.65 181.50,298.80 181.90,299.40 C182.30,300.00 182.55,299.65 183.20,299.70 C183.85,299.75 185.37,299.70 185.80,299.70" fill="none" stroke="#ff00ff" stroke-width="1.4" stroke-linejoin="round" stroke-linecap="round"/>
<rect x="284.75" y="337.40" width="15.00" height="21.20" fill="#000"/>
<line x1="292.50" y1="325.70" x2="292.50" y2="337.40" stroke="#000" stroke-width="1.1"/>
<line x1="290.55" y1="326.00" x2="293.95" y2="326.00" stroke="#000" stroke-width="1.0"/>
<rect x="321.36" y="288.60" width="15.00" height="70.00" fill="#000"/>
<line x1="328.50" y1="280.50" x2="328.50" y2="288.60" stroke="#000" stroke-width="1.1"/>
<line x1="327.16" y1="280.80" x2="330.56" y2="280.80" stroke="#000" stroke-width="1.0"/>
<rect x="357.98" y="286.00" width="15.00" height="72.60" fill="#000"/>
<line x1="365.50" y1="274.60" x2="365.50" y2="286.00" stroke="#000" stroke-width="1.1"/>
<line x1="363.78" y1="274.90" x2="367.18" y2="274.90" stroke="#000" stroke-width="1.0"/>
<rect x="394.59" y="258.20" width="15.00" height="100.40" fill="#000"/>
<line x1="402.50" y1="252.70" x2="402.50" y2="258.20" stroke="#000" stroke-width="1.1"/>
<line x1="400.39" y1="253.00" x2="403.79" y2="253.00" stroke="#000" stroke-width="1.0"/>
<rect x="431.20" y="272.20" width="15.00" height="86.40" fill="#000"/>
<line x1="438.50" y1="261.50" x2="438.50" y2="272.20" stroke="#000" stroke-width="1.1"/>
<line x1="437.00" y1="261.80" x2="440.40" y2="261.80" stroke="#000" stroke-width="1.0"/>
<line x1="274.05" y1="225.40" x2="274.05" y2="359.25" stroke="#444" stroke-width="2.0"/>
<line x1="271.20" y1="358.60" x2="456.90" y2="358.60" stroke="#000" stroke-width="1.3"/>
<line x1="271.75" y1="358.20" x2="274.05" y2="358.20" stroke="#000" stroke-width="1.0"/>
<line x1="271.75" y1="331.65" x2="274.05" y2="331.65" stroke="#000" stroke-width="1.0"/>
<line x1="271.75" y1="305.10" x2="274.05" y2="305.10" stroke="#000" stroke-width="1.0"/>
<line x1="271.75" y1="278.55" x2="274.05" y2="278.55" stroke="#000" stroke-width="1.0"/>
<line x1="271.75" y1="252.00" x2="274.05" y2="252.00" stroke="#000" stroke-width="1.0"/>
<line x1="271.75" y1="225.45" x2="274.05" y2="225.45" stroke="#000" stroke-width="1.0"/>
<line x1="292.25" y1="358.60" x2="292.25" y2="361.00" stroke="#000" stroke-width="1.0"/>
<line x1="328.86" y1="358.60" x2="328.86" y2="361.00" stroke="#000" stroke-width="1.0"/>
<line x1="365.48" y1="358.60" x2="365.48" y2="361.00" stroke="#000" stroke-width="1.0"/>
<line x1="402.09" y1="358.60" x2="402.09" y2="361.00" stroke="#000" stroke-width="1.0"/>
<line x1="438.70" y1="358.60" x2="438.70" y2="361.00" stroke="#000" stroke-width="1.0"/>
<line x1="456.90" y1="358.60" x2="456.90" y2="361.00" stroke="#000" stroke-width="1.0"/>
<text x="261.90" y="361.00" font-family='"Liberation Sans", sans-serif' font-size="8.6" font-weight="normal" fill="#000" textLength="4.20" lengthAdjust="spacingAndGlyphs"  stroke="#000" stroke-width="0.3">0</text>
<text x="261.90" y="334.45" font-family='"Liberation Sans", sans-serif' font-size="8.6" font-weight="normal" fill="#000" textLength="4.20" lengthAdjust="spacingAndGlyphs"  stroke="#000" stroke-width="0.3">5</text>
<text x="257.70" y="307.90" font-family='"Liberation Sans", sans-serif' font-size="8.6" font-weight="normal" fill="#000" textLength="8.40" lengthAdjust="spacingAndGlyphs"  stroke="#000" stroke-width="0.3">10</text>
<text x="257.70" y="281.35" font-family='"Liberation Sans", sans-serif' font-size="8.6" font-weight="normal" fill="#000" textLength="8.40" lengthAdjust="spacingAndGlyphs"  stroke="#000" stroke-width="0.3">15</text>
<text x="257.70" y="254.80" font-family='"Liberation Sans", sans-serif' font-size="8.6" font-weight="normal" fill="#000" textLength="8.40" lengthAdjust="spacingAndGlyphs"  stroke="#000" stroke-width="0.3">20</text>
<text x="257.70" y="228.25" font-family='"Liberation Sans", sans-serif' font-size="8.6" font-weight="normal" fill="#000" textLength="8.40" lengthAdjust="spacingAndGlyphs"  stroke="#000" stroke-width="0.3">25</text>
<text x="279.80" y="373.60" font-family='"Liberation Sans", sans-serif' font-size="8.6" font-weight="normal" fill="#000" textLength="24.90" lengthAdjust="spacingAndGlyphs"  stroke="#000" stroke-width="0.3">PEPO-0</text>
<text x="313.86" y="373.60" font-family='"Liberation Sans", sans-serif' font-size="8.6" font-weight="normal" fill="#000" textLength="30.00" lengthAdjust="spacingAndGlyphs"  stroke="#000" stroke-width="0.3">PEPO-10</text>
<text x="350.48" y="373.60" font-family='"Liberation Sans", sans-serif' font-size="8.6" font-weight="normal" fill="#000" textLength="30.00" lengthAdjust="spacingAndGlyphs"  stroke="#000" stroke-width="0.3">PEPO-20</text>
<text x="387.09" y="373.60" font-family='"Liberation Sans", sans-serif' font-size="8.6" font-weight="normal" fill="#000" textLength="30.00" lengthAdjust="spacingAndGlyphs"  stroke="#000" stroke-width="0.3">PEPO-30</text>
<text x="423.70" y="373.60" font-family='"Liberation Sans", sans-serif' font-size="8.6" font-weight="normal" fill="#000" textLength="30.00" lengthAdjust="spacingAndGlyphs"  stroke="#000" stroke-width="0.3">PEPO-50</text>
<text transform="translate(251.50,334.50) rotate(-90)" x="0" y="0" font-family='"Liberation Sans", sans-serif' font-size="9.2" font-weight="bold" fill="#000" textLength="55.70" lengthAdjust="spacingAndGlyphs">Toughness,</text>
<text transform="translate(252.40,274.60) rotate(-90)" x="0" y="0" font-family='"Liberation Serif", serif' font-size="12.5" font-weight="bold" fill="#000" textLength="19.70" lengthAdjust="spacingAndGlyphs">J/m</text>
<text transform="translate(248.40,254.40) rotate(-90)" x="0" y="0" font-family='"Liberation Serif", serif' font-size="8.5" font-weight="bold" fill="#000" textLength="3.80" lengthAdjust="spacingAndGlyphs">3</text>
<text x="296.47" y="389.30" font-family='"Liberation Sans", sans-serif' font-size="10.4" font-weight="normal" fill="#000" textLength="48.93" lengthAdjust="spacingAndGlyphs" stroke="#000" stroke-width="0.3">Substitution</text>
<text x="347.72" y="389.30" font-family='"Liberation Sans", sans-serif' font-size="10.4" font-weight="normal" fill="#000" textLength="18.25" lengthAdjust="spacingAndGlyphs" stroke="#000" stroke-width="0.3">with</text>
<text x="368.04" y="389.30" font-family='"Liberation Sans", sans-serif' font-size="10.4" font-weight="normal" fill="#000" textLength="16.66" lengthAdjust="spacingAndGlyphs" stroke="#000" stroke-width="0.3">Gly-</text>
<text x="386.57" y="389.30" font-family='"Liberation Sans", sans-serif' font-size="10.4" font-weight="normal" fill="#000" textLength="22.41" lengthAdjust="spacingAndGlyphs" stroke="#000" stroke-width="0.3">WPET</text>
<text x="411.02" y="389.30" font-family='"Liberation Sans", sans-serif' font-size="10.4" font-weight="normal" fill="#000" textLength="22.70" lengthAdjust="spacingAndGlyphs" stroke="#000" stroke-width="0.3">ratio,</text>
<text x="434.82" y="389.30" font-family='"Liberation Sans", sans-serif' font-size="10.4" font-weight="normal" fill="#000" textLength="6.96" lengthAdjust="spacingAndGlyphs" stroke="#000" stroke-width="0.3">%</text>
</svg>
</body></html>
